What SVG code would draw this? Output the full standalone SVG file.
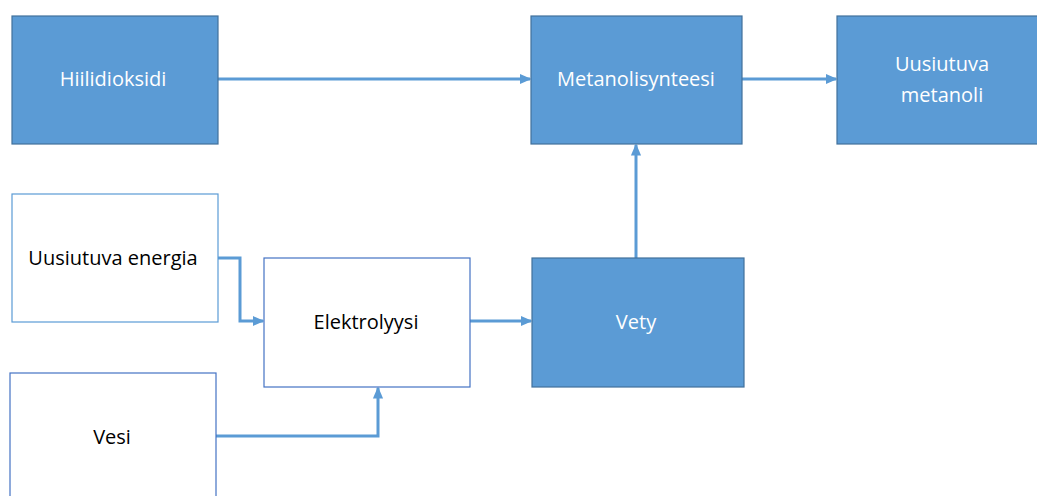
<svg xmlns="http://www.w3.org/2000/svg" width="1037" height="496" viewBox="0 0 1037 496">
<style>
.fill{fill:#5B9BD5;stroke:#41719C;stroke-width:1.2}
.out{fill:#fff;stroke:#5B9BD5;stroke-width:1.2}
.out2{fill:#fff;stroke:#4472C4;stroke-width:1.2}
.tw{font-family:"Open Sans","Noto Sans",sans-serif;font-size:20px;fill:#fff;text-anchor:middle}
.tb{font-family:"Open Sans","Noto Sans",sans-serif;font-size:20px;fill:#000;text-anchor:middle}
.c{fill:none;stroke:#5B9BD5;stroke-width:3;marker-end:url(#a)}
</style>
<defs>
<marker id="a" markerWidth="4" markerHeight="4" refX="3.5" refY="2" orient="auto" markerUnits="strokeWidth">
<path d="M0,0.3 L4,2 L0,3.7 z" fill="#5B9BD5"/>
</marker>
</defs>
<rect width="1037" height="496" fill="#fff"/>
<g id="connectors">
<path class="c" d="M218,79 H530"/>
<path class="c" d="M742,79 H836"/>
<path class="c" d="M636,258 V145"/>
<path class="c" d="M218,258 H240 V321 H263"/>
<path class="c" d="M470,321 H531"/>
<path class="c" d="M216,436 H378 V388"/>
</g>
<g id="hiilidioksidi"><rect class="fill" x="12" y="16" width="206" height="128"/><text class="tw" x="113" y="86">Hiilidioksidi</text></g>
<g id="metanolisynteesi"><rect class="fill" x="531" y="16" width="211" height="128"/><text class="tw" x="636" y="86">Metanolisynteesi</text></g>
<g id="uusiutuva-metanoli"><rect class="fill" x="837" y="16" width="210" height="128"/><text class="tw" x="942" y="71">Uusiutuva</text><text class="tw" x="942" y="102">metanoli</text></g>
<g id="uusiutuva-energia"><rect class="out" x="12" y="194" width="206" height="128"/><text class="tb" x="113" y="265">Uusiutuva energia</text></g>
<g id="elektrolyysi"><rect class="out2" x="264" y="258" width="206" height="129"/><text class="tb" x="366" y="329">Elektrolyysi</text></g>
<g id="vesi"><rect class="out2" x="10" y="373" width="206" height="140"/><text class="tb" x="112" y="444">Vesi</text></g>
<g id="vety"><rect class="fill" x="532" y="258" width="212" height="129"/><text class="tw" x="636" y="329">Vety</text></g>
</svg>
